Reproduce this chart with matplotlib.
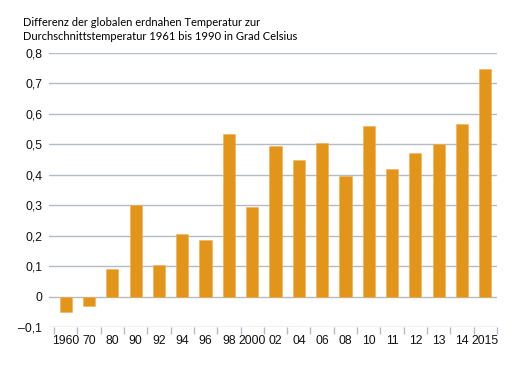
import matplotlib
matplotlib.use("Agg")
import matplotlib.pyplot as plt
from matplotlib.ticker import FixedLocator, FuncFormatter

categories = ["1960", "70", "80", "90", "92", "94", "96", "98", "2000", "02",
              "04", "06", "08", "10", "11", "12", "13", "14", "2015"]
values = [-0.05, -0.03, 0.09, 0.30, 0.105, 0.205, 0.185, 0.535, 0.295, 0.495,
          0.45, 0.505, 0.395, 0.56, 0.42, 0.47, 0.50, 0.567, 0.747]
yticks = [-0.1, 0, 0.1, 0.2, 0.3, 0.4, 0.5, 0.6, 0.7, 0.8]
title = "Differenz der globalen erdnahen Temperatur zur\nDurchschnittstemperatur 1961 bis 1990 in Grad Celsius"

W, H = 518, 385
fig = plt.figure(figsize=(W / 100, H / 100), dpi=100)
left, right, top, bottom = 49, 497, 53, 327
ax = fig.add_axes([left / W, (H - bottom) / H, (right - left) / W, (bottom - top) / H])

bar_color = "#E3951A"
grid_color = "#B3BBC3"
x = list(range(len(categories)))
ax.bar(x, values, width=0.52, color=bar_color, edgecolor="#EDB35C", linewidth=0.4, zorder=3)

ax.set_ylim(-0.1, 0.8)
ax.set_xlim(-0.5 - 5 / 23.3, len(categories) - 0.5)

for s in ax.spines.values():
    s.set_visible(False)

ax.yaxis.set_major_locator(FixedLocator(yticks))
def yfmt(v, pos):
    if abs(v) < 1e-9:
        return "0"
    s = f"{v:.1f}".replace(".", ",")
    return s.replace("-", "\u2013")
ax.yaxis.set_major_formatter(FuncFormatter(yfmt))
ax.grid(axis="y", color=grid_color, linewidth=1.0, zorder=0)
ax.tick_params(axis="y", length=0, pad=5, labelsize=8.8, labelcolor="#111111")

ax.set_xticks(x)
ax.set_xticklabels(categories)
ax.tick_params(axis="x", which="major", length=0, pad=5.5, labelsize=8.8, labelcolor="#111111")
ax.set_xticks([i - 0.5 for i in range(len(categories) + 1)], minor=True)
ax.tick_params(axis="x", which="minor", length=5, width=1.0, color=grid_color, direction="out")

for lab in ax.get_xticklabels() + ax.get_yticklabels():
    lab.set_fontfamily("Liberation Sans")

fig.text(23 / W, 1 - 17 / H, title, ha="left", va="top", fontsize=8.0,
         family="Lato", color="#000000", linespacing=1.35)

fig.savefig("out.png", dpi=100, facecolor="white")
